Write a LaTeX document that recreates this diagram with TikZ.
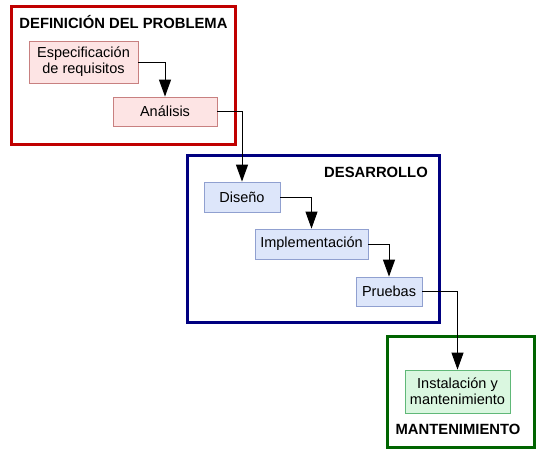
\documentclass[tikz,border=0pt]{standalone}
\usepackage{fontspec}
\setmainfont{Liberation Sans}
\usetikzlibrary{arrows.meta}
\definecolor{redframe}{HTML}{C00000}
\definecolor{pinkfill}{HTML}{FDE4E4}
\definecolor{pinkline}{HTML}{C88080}
\definecolor{blueframe}{HTML}{000080}
\definecolor{bluefill}{HTML}{DDE6FA}
\definecolor{blueline}{HTML}{90A0D0}
\definecolor{greenframe}{HTML}{006400}
\definecolor{greenfill}{HTML}{DAF7E0}
\definecolor{greenline}{HTML}{60B878}
\tikzset{
  frame/.style={draw, line width=3pt, inner sep=0pt, rectangle},
  stagebox/.style={draw, line width=0.8pt, inner sep=0pt, align=center,
    font=\fontsize{14.5}{16}\selectfont},
  redbox/.style={stagebox, fill=pinkfill, draw=pinkline},
  bluebox/.style={stagebox, fill=bluefill, draw=blueline},
  greenbox/.style={stagebox, fill=greenfill, draw=greenline},
  title/.style={font=\bfseries\fontsize{14.8}{16}\selectfont, inner sep=0pt},
  conn/.style={draw=black, line width=1pt, -{Triangle[length=17pt,width=12pt]}},
}
\begin{document}
\begin{tikzpicture}[x=1pt,y=-1pt]
\useasboundingbox (0,0) rectangle (543,459);
% frames
\node[frame, draw=redframe, minimum width=223.3pt, minimum height=137.3pt] (fdef) at (123.35,75.35) {};
\node[frame, draw=blueframe, minimum width=251.6pt, minimum height=166.5pt] (fdes) at (313.5,239.05) {};
\node[frame, draw=greenframe, minimum width=146.6pt, minimum height=110.5pt] (fman) at (461,392.05) {};
% titles
\node[title] (tdef) at (123.5,22) {DEFINICIÓN DEL PROBLEMA};
\node[title] (tdes) at (376,172) {DESARROLLO};
\node[title] (tman) at (458,429) {MANTENIMIENTO};
% stage boxes
\node[redbox, minimum width=109pt, minimum height=42pt] (esp) at (83.5,62) {Especificación\\de requisitos};
\node[redbox, minimum width=104pt, minimum height=29pt] (ana) at (165,111.5) {Análisis};
\node[bluebox, minimum width=76pt, minimum height=30pt] (dis) at (242,197) {Diseño};
\node[bluebox, minimum width=113pt, minimum height=30pt] (imp) at (311.5,244) {Implementación};
\node[bluebox, minimum width=66pt, minimum height=29pt] (pru) at (389,291.5) {Pruebas};
\node[greenbox, minimum width=105pt, minimum height=43pt] (ins) at (457.5,391.5) {Instalación y\\mantenimiento};
% connectors
\draw[conn] (esp.east) -| (ana.north);
\draw[conn] (ana.east) -| (dis.north);
\draw[conn] (dis.east) -| (imp.north);
\draw[conn] (imp.east) -| (pru.north);
\draw[conn] (pru.east) -| (ins.north);
\end{tikzpicture}
\end{document}
